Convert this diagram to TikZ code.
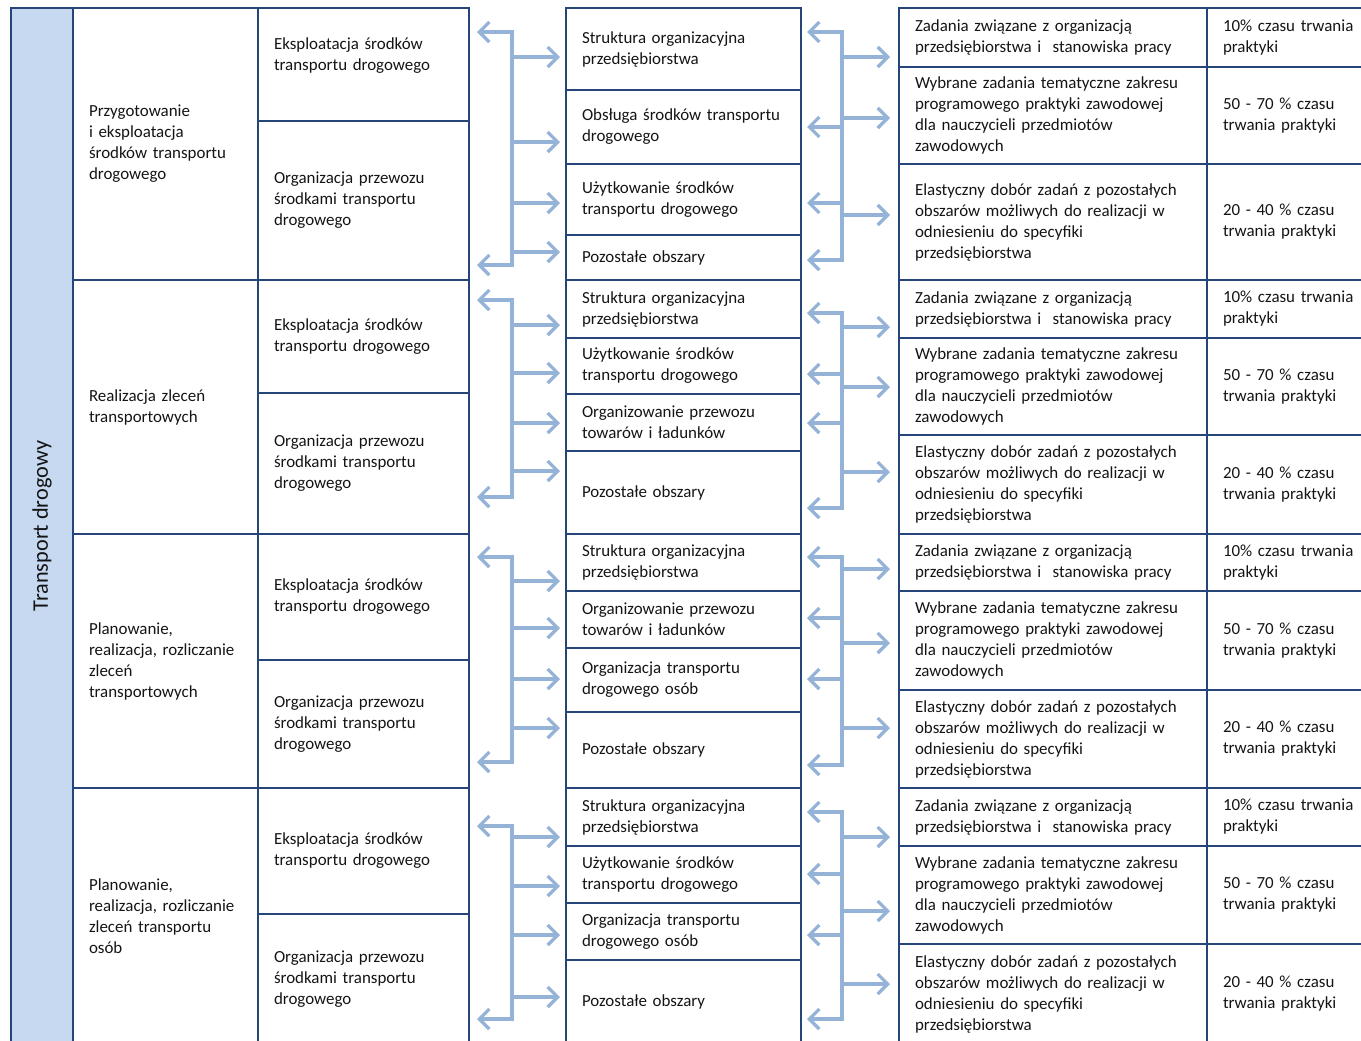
\documentclass[tikz,border=0pt]{standalone}
\usepackage{fontspec}
\setmainfont{Carlito}
\usetikzlibrary{positioning, arrows.meta}

\definecolor{frame}{RGB}{38,69,120}
\definecolor{sidefill}{RGB}{198,217,241}
\definecolor{linkblue}{RGB}{149,179,215}
\definecolor{ink}{RGB}{20,20,20}

\newcommand{\celltext}{\fontsize{12.7pt}{15.75pt}\selectfont}

\tikzset{
  box/.style={draw=frame, line width=1.5pt, anchor=north west, outer sep=0pt,
    inner xsep=12pt, inner ysep=0pt, align=left, text=ink, font=\celltext},
  rowh/.style={minimum height=#1*0.75pt},
  sidebox/.style={box, fill=sidefill, minimum width=62*0.75pt},
  areabox/.style={box, minimum width=185*0.75pt, text width=114.75pt},
  taskbox/.style={box, minimum width=211*0.75pt, text width=134.25pt},
  modbox/.style={box, minimum width=235*0.75pt, text width=152.25pt},
  zadbox/.style={box, minimum width=308*0.75pt, text width=207pt},
  pctbox/.style={box, minimum width=173*0.75pt, text width=105.75pt},
  link/.style={draw=linkblue, line width=2.5pt, >={Straight Barb[length=7.5pt,width=15pt]}},
}

\begin{document}
\begin{tikzpicture}[x=0.75pt, y=-0.75pt]
    \useasboundingbox (0,0) rectangle (1361,1040);

    % left table
    \node[sidebox, rowh=1036] (side) at (11,8) {};
    \node[rotate=90, text=ink, font=\fontsize{16.7pt}{20pt}\selectfont] (sidelabel) at (side.center) {Transport drogowy};

    \node[areabox, rowh=272] (area1) at (side.north east) {Przygotowanie\\i eksploatacja\\środków transportu\\drogowego};
    \node[areabox, rowh=254] (area2) at (area1.south west) {Realizacja zleceń\\transportowych};
    \node[areabox, rowh=254] (area3) at (area2.south west) {Planowanie,\\realizacja, rozliczanie\\zleceń\\transportowych};
    \node[areabox, rowh=256] (area4) at (area3.south west) {Planowanie,\\realizacja, rozliczanie\\zleceń transportu\\osób};

    \node[taskbox, rowh=113] (task11) at (area1.north east) {Eksploatacja środków\\transportu drogowego\\[-0.75pt]\mbox{}};
    \node[taskbox, rowh=159] (task12) at (task11.south west) {Organizacja przewozu\\środkami transportu\\drogowego};
    \foreach \g/\ha/\hb in {2/113/141, 3/126/128, 4/126/130}{
        \node[taskbox, rowh=\ha] (task\g1) at (area\g.north east) {Eksploatacja środków\\transportu drogowego};
        \node[taskbox, rowh=\hb] (task\g2) at (task\g1.south west) {Organizacja przewozu\\środkami transportu\\drogowego};
    }

    % middle table
    \node[modbox, rowh=82] (mod11) at (566,8) {Struktura organizacyjna\\przedsiębiorstwa};
    \node[modbox, rowh=74] (mod12) at (mod11.south west) {Obsługa środków transportu\\drogowego};
    \node[modbox, rowh=71] (mod13) at (mod12.south west) {Użytkowanie środków\\transportu drogowego};
    \node[modbox, rowh=45] (mod14) at (mod13.south west) {Pozostałe obszary};

    \node[modbox, rowh=58] (mod21) at (mod14.south west) {Struktura organizacyjna\\przedsiębiorstwa};
    \node[modbox, rowh=56] (mod22) at (mod21.south west) {Użytkowanie środków\\transportu drogowego};
    \node[modbox, rowh=57] (mod23) at (mod22.south west) {Organizowanie przewozu\\towarów i ładunków};
    \node[modbox, rowh=83] (mod24) at (mod23.south west) {Pozostałe obszary};

    \node[modbox, rowh=57] (mod31) at (mod24.south west) {Struktura organizacyjna\\przedsiębiorstwa};
    \node[modbox, rowh=57] (mod32) at (mod31.south west) {Organizowanie przewozu\\towarów i ładunków};
    \node[modbox, rowh=64] (mod33) at (mod32.south west) {Organizacja transportu\\drogowego osób};
    \node[modbox, rowh=76] (mod34) at (mod33.south west) {Pozostałe obszary};

    \node[modbox, rowh=58] (mod41) at (mod34.south west) {Struktura organizacyjna\\przedsiębiorstwa};
    \node[modbox, rowh=57] (mod42) at (mod41.south west) {Użytkowanie środków\\transportu drogowego};
    \node[modbox, rowh=57] (mod43) at (mod42.south west) {Organizacja transportu\\drogowego osób};
    \node[modbox, rowh=84] (mod44) at (mod43.south west) {Pozostałe obszary};

    % right table
    \foreach \g/\y/\ha/\hb/\hc in {1/8/59/97/116, 2/280/58/97/99, 3/534/57/99/98, 4/788/58/98/100}{
        \node[zadbox, rowh=\ha] (zad\g1) at (899,\y) {Zadania związane z organizacją\\przedsiębiorstwa i~\ stanowiska pracy};
        \node[zadbox, rowh=\hb] (zad\g2) at (zad\g1.south west) {Wybrane zadania tematyczne zakresu\\programowego praktyki zawodowej\\dla nauczycieli przedmiotów\\zawodowych};
        \node[zadbox, rowh=\hc] (zad\g3) at (zad\g2.south west) {Elastyczny dobór zadań z pozostałych\\obszarów możliwych do realizacji w\\odniesieniu do specyfiki\\przedsiębiorstwa};
        \node[pctbox, rowh=\ha] (pct\g1) at (zad\g1.north east) {10\% czasu trwania\\praktyki};
        \node[pctbox, rowh=\hb] (pct\g2) at (zad\g2.north east) {50 - 70 \% czasu\\trwania praktyki};
        \node[pctbox, rowh=\hc] (pct\g3) at (zad\g3.north east) {20 - 40 \% czasu\\trwania praktyki};
    }

    % arrows left
    \foreach \g/\ya/\yb/\ys in {1/32/265/{57,142,203,252}, 2/300/497/{325,373,423,471},
                                3/557/762/{581,628,679,728}, 4/826/1019/{837,886,935,997}}{
        \coordinate (ltop\g) at (512,\ya);
        \coordinate (lbot\g) at (512,\yb);
        \draw[link, <->, shorten <=6pt, shorten >=6pt]
            (task\g1.east |- ltop\g) -- (ltop\g) -- (lbot\g) -- (task\g1.east |- lbot\g);
        \foreach \y in \ys {
            \coordinate (lfork) at (512,\y);
            \draw[link, ->, shorten >=4.5pt] (lfork) -- (mod\g1.west |- lfork);
        }
    }

    % arrows right
    \foreach \g/\ya/\yb/\yl/\yr in {1/32/260/{127,203}/{57,118,215}, 2/313/508/{374,423}/{327,387,472},
                                    3/557/765/{618,679}/{569,643,728}, 4/812/1019/{874,935}/{837,911,984}}{
        \coordinate (rtop\g) at (842,\ya);
        \coordinate (rbot\g) at (842,\yb);
        \draw[link, <->, shorten <=4.5pt, shorten >=4.5pt]
            (mod\g1.east |- rtop\g) -- (rtop\g) -- (rbot\g) -- (mod\g1.east |- rbot\g);
        \foreach \y in \yl {
            \coordinate (rfork) at (842,\y);
            \draw[link, ->, shorten >=4.5pt] (rfork) -- (mod\g1.east |- rfork);
        }
        \foreach \y in \yr {
            \coordinate (rfork) at (842,\y);
            \draw[link, ->, shorten >=6.75pt] (rfork) -- (zad\g1.west |- rfork);
        }
    }
\end{tikzpicture}
\end{document}
